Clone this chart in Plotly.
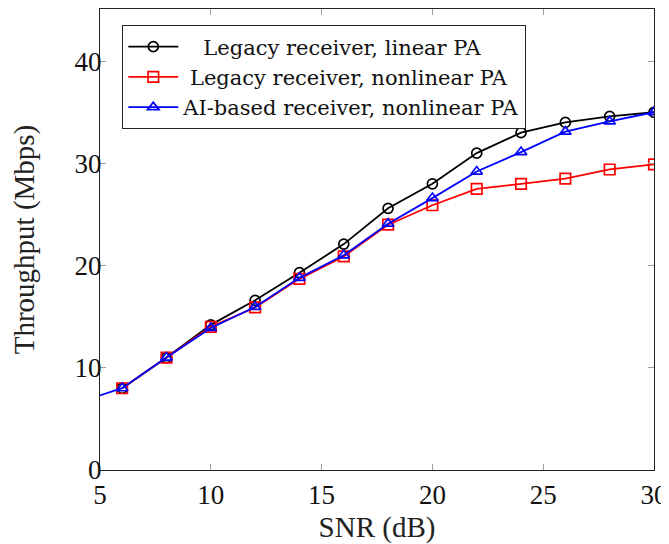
import plotly.graph_objects as go

snr = [6, 8, 10, 12, 14, 16, 18, 20, 22, 24, 26, 28, 30]
linear_legacy = [8.0, 11.0, 14.2, 16.6, 19.3, 22.1, 25.6, 28.0, 31.0, 33.0, 34.0, 34.6, 35.0]
nonlinear_legacy = [8.0, 11.0, 14.0, 15.9, 18.7, 20.9, 24.0, 25.9, 27.5, 28.0, 28.5, 29.4, 29.9]
ai_snr = [4, 6, 8, 10, 12, 14, 16, 18, 20, 22, 24, 26, 28, 30]
ai_nonlinear = [6.6, 8.0, 11.0, 13.9, 15.95, 18.8, 21.0, 24.1, 26.6, 29.2, 31.1, 33.1, 34.1, 35.0]

NB = "\u00a0"
names = [NB * 3 + "Legacy receiver, linear PA",
         NB * 1 + "Legacy receiver, nonlinear PA",
         "AI-based receiver, nonlinear PA"]
x_ticks = [5, 10, 15, 20, 25, 30]
y_ticks = [0, 10, 20, 30, 40]

FONT = "Liberation Serif"
LFONT = "DejaVu Serif"

fig = go.Figure()
fig.add_trace(go.Scatter(x=snr, y=linear_legacy, name=names[0], mode="lines+markers",
                         line=dict(color="black", width=1.8),
                         marker=dict(symbol="circle-open", size=10, color="black",
                                     line=dict(width=1.7, color="black"))))
fig.add_trace(go.Scatter(x=snr, y=nonlinear_legacy, name=names[1], mode="lines+markers",
                         line=dict(color="red", width=1.8),
                         marker=dict(symbol="square-open", size=10.5, color="red",
                                     line=dict(width=1.7, color="red"))))
fig.add_trace(go.Scatter(x=ai_snr, y=ai_nonlinear, name=names[2], mode="lines+markers",
                         line=dict(color="blue", width=1.8),
                         marker=dict(symbol="triangle-up-open", size=10, color="blue",
                                     line=dict(width=1.7, color="blue"))))

axis_common = dict(showgrid=False, zeroline=False, showline=True, linecolor="#222",
                   linewidth=1.3, mirror="allticks", ticks="inside", ticklen=6,
                   tickcolor="#a0a0a0", tickwidth=1,
                   tickfont=dict(family=FONT, size=27, color="#111"))

fig.update_xaxes(range=[5, 30], tickvals=x_ticks, ticklabelstandoff=0,
                 title=dict(text="SNR (dB)", font=dict(family=FONT, size=29, color="#222"),
                            standoff=10),
                 **axis_common)
fig.update_yaxes(range=[0, 45.1], tickvals=y_ticks, ticklabelstandoff=-8,
                 title=dict(text="Throughput (Mbps)", font=dict(family=FONT, size=29, color="#222"),
                            standoff=34),
                 **axis_common)

fig.update_layout(
    width=661, height=536,
    margin=dict(l=92, r=15, t=1, b=74),
    plot_bgcolor="white", paper_bgcolor="white",
    font=dict(family=FONT, color="black"),
    legend=dict(x=0.0397, y=0.965, xanchor="left", yanchor="top",
                bgcolor="white", bordercolor="#222", borderwidth=1.3,
                font=dict(family=LFONT, size=21, color="#111"),
                itemwidth=50, tracegroupgap=0),
)

fig.write_html("out.html")
